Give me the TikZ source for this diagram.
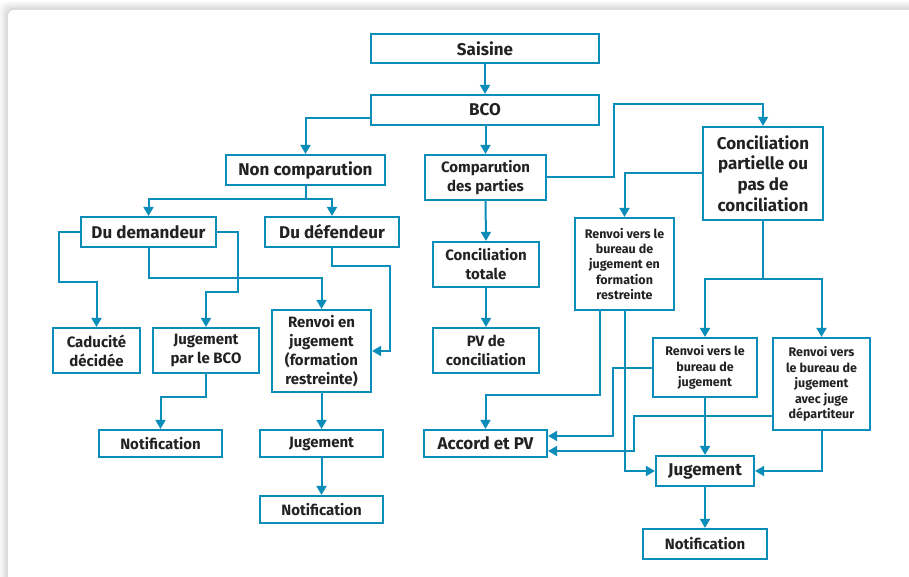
\documentclass[tikz,border=0pt]{standalone}
\usepackage{fontspec}
\setmainfont{Fira Sans}
\usetikzlibrary{arrows.meta,calc}
\definecolor{lineblue}{HTML}{0A8DB8}
\definecolor{txt}{HTML}{222222}
\begin{document}
\begin{tikzpicture}[x=1pt,y=-1pt,
  bx/.style={draw=lineblue,line width=2.2pt,fill=white,align=center,text=txt,inner sep=1pt},
  lg/.style={font=\bfseries\fontsize{17}{20.7}\selectfont},
  md/.style={font=\bfseries\fontsize{15}{19}\selectfont},
  sm/.style={font=\bfseries\fontsize{12.5}{15.4}\selectfont},
  arr/.style={draw=lineblue,line width=2pt,-{Triangle[width=10pt,length=9pt]}},
  ln/.style={draw=lineblue,line width=2pt}]
\useasboundingbox (0,0) rectangle (909,577);
\begin{scope}
\clip (0,0) rectangle (909,577);
\fill[white] (0,0) rectangle (909,577);
\foreach \d in {8,6,4,2}
  \fill[black,opacity=0.035,rounded corners=8pt] (8-\d,10-\d) rectangle (940,600);
\fill[white,rounded corners=6pt] (8,10) rectangle (940,600);
\end{scope}

% nodes
\node[bx,lg,minimum width=228pt,minimum height=29pt] (saisine) at (485,48.5) {Saisine};
\node[bx,lg,minimum width=228pt,minimum height=30pt] (bco) at (485,110) {BCO};
\node[bx,lg,minimum width=159pt,minimum height=30pt] (noncomp) at (305.5,170) {Non comparution};
\node[bx,md,minimum width=121pt,minimum height=45pt] (comp) at (485.5,177.5) {Comparution\\des parties};
\node[bx,lg,minimum width=120pt,minimum height=93pt] (concpart) at (763,173.5) {Conciliation\\partielle ou\\pas de\\conciliation};
\node[bx,lg,minimum width=135pt,minimum height=30pt] (dudem) at (148.5,232) {Du demandeur};
\node[bx,lg,minimum width=134pt,minimum height=30pt] (dudef) at (332,232) {Du défendeur};
\node[bx,md,minimum width=106pt,minimum height=45pt] (conctot) at (486,264.5) {Conciliation\\totale};
\node[bx,sm,minimum width=99pt,minimum height=92pt] (renvoiFR) at (624.5,264) {Renvoi vers le\\bureau de\\jugement en\\formation\\restreinte};
\node[bx,md,minimum width=87pt,minimum height=45pt] (caduc) at (96.5,350.5) {Caducité\\décidée};
\node[bx,md,minimum width=106pt,minimum height=45pt] (jugBCO) at (206,350.5) {Jugement\\par le BCO};
\node[bx,md,minimum width=99pt,minimum height=82pt] (renvoiJ) at (321.5,351) {Renvoi en\\jugement\\(formation\\restreinte)};
\node[bx,md,minimum width=106pt,minimum height=45pt] (pvconc) at (486,350.5) {PV de\\conciliation};
\node[bx,sm,minimum width=104pt,minimum height=59pt] (renvoiBJ) at (705,367.5) {Renvoi vers le\\bureau de\\jugement};
\node[bx,sm,minimum width=97pt,minimum height=92pt] (renvoiJD) at (821.5,384) {Renvoi vers\\le bureau de\\jugement\\avec juge\\départiteur};
\node[bx,md,minimum width=123pt,minimum height=27pt] (notifL) at (160.5,443.5) {Notification};
\node[bx,md,minimum width=123pt,minimum height=27pt] (jugM) at (321.5,443.5) {Jugement};
\node[bx,lg,minimum width=123pt,minimum height=27pt] (accord) at (485.5,443.5) {Accord et PV};
\node[bx,lg,minimum width=98pt,minimum height=30pt] (jugR) at (705,471) {Jugement};
\node[bx,md,minimum width=123pt,minimum height=27pt] (notifM) at (321.5,509.5) {Notification};
\node[bx,md,minimum width=124pt,minimum height=30pt] (notifR) at (705,544) {Notification};

% connectors
\draw[arr] (saisine.south) -- (bco.north);
\draw[arr] (bco.west |- 0,118) -| (noncomp.north);
\draw[arr] (bco.south -| comp.north) -- (comp.north);
\draw[arr] (comp.east) -| (614,104) -| (concpart.north);
\draw[arr] (concpart.west) -| (renvoiFR.north);
\coordinate (cp) at (concpart.south |- 0,279);
\draw[ln] (concpart.south) -- (cp);
\draw[arr] (cp) -| (renvoiBJ.north);
\draw[arr] (cp) -| (renvoiJD.north);
\coordinate (nc) at (noncomp.south |- 0,199);
\draw[ln] (noncomp.south) -- (nc);
\draw[arr] (nc) -| (dudem.north);
\draw[arr] (nc) -| (dudef.north);
\draw[arr] (dudem.west) -| (59,282) -| (caduc.north);
\draw[arr] (dudem.east) -| (238,292) -| (jugBCO.north);
\draw[arr] (dudem.south) -- (dudem.south |- 0,278) -| (renvoiJ.north);
\draw[arr] (dudef.south) -- (dudef.south |- 0,266) -| (390,351) -- (renvoiJ.east);
\draw[arr] (jugBCO.south) -- (jugBCO.south |- 0,397) -| (notifL.north);
\draw[arr] (renvoiJ.south) -- (jugM.north);
\draw[arr] (jugM.south) -- (notifM.north);
\draw[arr] (comp.south) -- (conctot.north);
\draw[arr] (conctot.south) -- (pvconc.north);
\draw[arr] (renvoiFR.south -| 600,0) -- (600,395) -| (accord.north);
\draw[arr] (renvoiFR.south) |- (jugR.west);
\draw[arr] (renvoiBJ.west) -| (613,436) -- (accord.east |- 0,436);
\draw[arr] (renvoiBJ.south) -- (jugR.north);
\draw[arr] (renvoiJD.west |- 0,416) -| (634,451) -- (accord.east |- 0,451);
\draw[arr] (renvoiJD.south) |- (jugR.east);
\draw[arr] (jugR.south) -- (notifR.north);
\end{tikzpicture}
\end{document}
